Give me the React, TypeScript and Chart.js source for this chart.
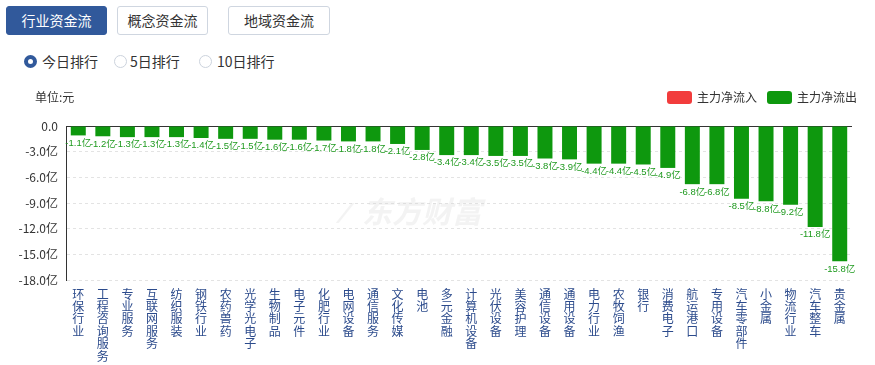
import React, { useEffect, useRef } from "react";
import { Chart, registerables } from "chart.js";

Chart.register(...registerables);

const categories = [
  "环保行业", "工程咨询服务", "专业服务", "互联网服务", "纺织服装", "钢铁行业", "农药兽药", "光学光电子",
  "生物制品", "电子元件", "化肥行业", "电网设备", "通信服务", "文化传媒", "电池", "多元金融",
  "计算机设备", "光伏设备", "美容护理", "通信设备", "通用设备", "电力行业", "农牧饲渔", "银行",
  "消费电子", "航运港口", "专用设备", "汽车零部件", "小金属", "物流行业", "汽车整车", "贵金属",
];

const outflow = [
  -1.1, -1.2, -1.3, -1.3, -1.3, -1.4, -1.5, -1.5,
  -1.6, -1.6, -1.7, -1.8, -1.8, -2.1, -2.8, -3.4,
  -3.4, -3.5, -3.5, -3.8, -3.9, -4.4, -4.4, -4.5,
  -4.9, -6.8, -6.8, -8.5, -8.8, -9.2, -11.8, -15.8,
];

const yTicks = [0, -3, -6, -9, -12, -15, -18];
const seriesNames = ["主力净流入", "主力净流出"];
const seriesColors = ["#f23c3c", "#0e980e"];
const tabs = ["行业资金流", "概念资金流", "地域资金流"];
const radios = ["今日排行", "5日排行", "10日排行"];

const FONT = "'Microsoft YaHei', 'Noto Sans CJK SC', sans-serif";
const NUMFONT = "'Liberation Sans', 'Noto Sans CJK SC', sans-serif";

const overlayPlugin = {
  id: "overlay",
  beforeDatasetsDraw(chart: any) {
    const { ctx, chartArea, scales } = chart;
    ctx.save();
    // watermark
    ctx.fillStyle = "rgba(215,215,215,0.3)";
    ctx.font = `bold italic 30px ${FONT}`;
    ctx.textBaseline = "middle";
    ctx.textAlign = "left";
    ctx.fillText("东方财富", 362, 132);
    ctx.fillText("⁄", 342, 132);
    // zero line
    const y0 = scales.y.getPixelForValue(0);
    ctx.strokeStyle = "#333";
    ctx.lineWidth = 1;
    ctx.beginPath();
    ctx.moveTo(chartArea.left, Math.round(y0) + 0.5);
    ctx.lineTo(chartArea.right, Math.round(y0) + 0.5);
    ctx.stroke();
    ctx.restore();
  },
  afterDatasetsDraw(chart: any) {
    const { ctx } = chart;
    const meta = chart.getDatasetMeta(0);
    ctx.save();
    ctx.font = `9.5px ${NUMFONT}`;
    ctx.fillStyle = "#1f9a1f";
    ctx.textAlign = "center";
    ctx.textBaseline = "top";
    meta.data.forEach((bar: any, i: number) => {
      ctx.fillText(outflow[i].toFixed(1) + "亿", bar.x, bar.y + 3);
    });
    // unit label
    ctx.font = `12px ${FONT}`;
    ctx.fillStyle = "#333";
    ctx.textAlign = "left";
    ctx.textBaseline = "middle";
    ctx.fillText("单位:元", 35, 17);
    // legend
    const legendX = [667, 767];
    seriesNames.forEach((name, i) => {
      ctx.fillStyle = seriesColors[i];
      const x = legendX[i];
      const y = 11;
      const w = 25, h = 13, r = 3;
      ctx.beginPath();
      ctx.moveTo(x + r, y);
      ctx.lineTo(x + w - r, y);
      ctx.quadraticCurveTo(x + w, y, x + w, y + r);
      ctx.lineTo(x + w, y + h - r);
      ctx.quadraticCurveTo(x + w, y + h, x + w - r, y + h);
      ctx.lineTo(x + r, y + h);
      ctx.quadraticCurveTo(x, y + h, x, y + h - r);
      ctx.lineTo(x, y + r);
      ctx.quadraticCurveTo(x, y, x + r, y);
      ctx.fill();
      ctx.fillStyle = "#333";
      ctx.fillText(name, x + 30, 17.5);
    });
    ctx.restore();
  },
};

function ChartCanvas() {
  const ref = useRef<HTMLCanvasElement>(null);
  useEffect(() => {
    if (!ref.current) return;
    const chart = new Chart(ref.current, {
      type: "bar",
      data: {
        labels: categories,
        datasets: [
          {
            label: seriesNames[1],
            data: outflow,
            backgroundColor: seriesColors[1],
            barPercentage: 0.61,
            categoryPercentage: 1,
          },
        ],
      },
      options: {
        responsive: false,
        animation: false,
        devicePixelRatio: 1,
        layout: { padding: { top: 46, right: 23, left: 0, bottom: 0 } },
        plugins: { legend: { display: false }, tooltip: { enabled: false } },
        scales: {
          x: {
            grid: { display: false },
            border: { display: false },
            ticks: {
              autoSkip: false,
              maxRotation: 0,
              minRotation: 0,
              padding: 0,
              color: "#2c4b8c",
              font: { family: FONT, size: 12, lineHeight: 1.03 },
              callback: (_v: any, i: number) => categories[i].split(""),
            },
            afterFit: (s: any) => {
              s.height = 85;
            },
          },
          y: {
            min: -18,
            max: 0,
            afterBuildTicks: (s: any) => {
              s.ticks = yTicks.map((v) => ({ value: v }));
            },
            grid: { color: "#e3e3e3", drawTicks: false },
            border: { display: true, color: "#333", dash: [3, 3] },
            ticks: {
              padding: 8,
              color: "#333",
              font: { family: FONT, size: 12 },
              callback: (v: any) => (v === 0 ? "0.0" : Number(v).toFixed(1) + "亿"),
            },
            afterFit: (s: any) => {
              s.width = 66;
            },
          },
        },
      },
      plugins: [overlayPlugin],
    } as any);
    return () => chart.destroy();
  }, []);
  return (
    <canvas
      ref={ref}
      width={875}
      height={285}
      style={{ position: "absolute", left: 0, top: 80, width: 875, height: 285 }}
    />
  );
}

export default function App() {
  const tabPos = [
    { left: 6, width: 101 },
    { left: 117, width: 91 },
    { left: 228, width: 102 },
  ];
  const radioPos = [
    { cx: 30, tx: 42 },
    { cx: 120, tx: 130 },
    { cx: 205, tx: 217 },
  ];
  return (
    <div
      style={{
        position: "absolute",
        left: 0,
        top: 0,
        width: 875,
        height: 365,
        background: "#fff",
        fontFamily: FONT,
        overflow: "hidden",
      }}
    >
      {tabs.map((t, i) => (
        <div
          key={t}
          style={{
            position: "absolute",
            top: 6,
            left: tabPos[i].left,
            width: tabPos[i].width,
            height: 29,
            boxSizing: "border-box",
            borderRadius: 3,
            border: i === 0 ? "1px solid #31599b" : "1px solid #cfd6e0",
            background: i === 0 ? "#31599b" : "#fff",
            color: i === 0 ? "#fff" : "#333",
            fontSize: 14,
            lineHeight: "27px",
            textAlign: "center",
          }}
        >
          {t}
        </div>
      ))}
      {radios.map((r, i) => (
        <React.Fragment key={r}>
          <div
            style={{
              position: "absolute",
              left: radioPos[i].cx - 6.5,
              top: 61 - 6.5,
              width: 13,
              height: 13,
              boxSizing: "border-box",
              borderRadius: "50%",
              border: i === 0 ? "4px solid #31599b" : "1px solid #ccd3dd",
              background: "#fff",
            }}
          />
          <div
            style={{
              position: "absolute",
              left: radioPos[i].tx,
              top: 51,
              fontSize: 14,
              lineHeight: "20px",
              color: "#333",
            }}
          >
            {r}
          </div>
        </React.Fragment>
      ))}
      <ChartCanvas />
    </div>
  );
}
